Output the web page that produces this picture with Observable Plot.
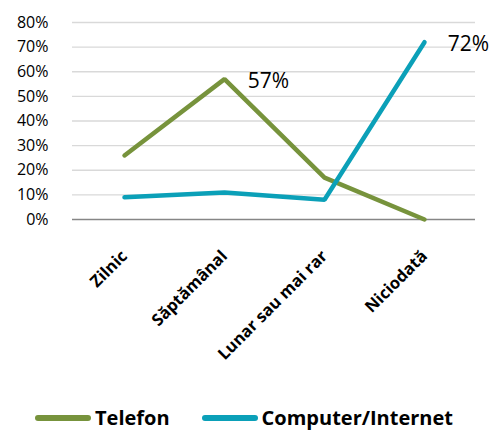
<!DOCTYPE html>
<html><head><meta charset="utf-8">
<script src="https://cdn.jsdelivr.net/npm/d3@7"></script>
<script src="https://cdn.jsdelivr.net/npm/@observablehq/plot@0.6"></script>
<style>
body{margin:0;background:#fff;font-family:"Open Sans",sans-serif;}
#legend{display:flex;align-items:center;font-weight:bold;font-size:20px;color:#000;margin-left:35px;margin-top:13px;line-height:26px;}
.sw{display:inline-block;width:56px;height:6px;border-radius:3px;margin-right:4px;}
.item{display:flex;align-items:center;margin-right:32px;}
</style></head><body>
<div id="chart"></div>
<div id="legend"></div>
<script>
const categories = ["Zilnic","Săptămânal","Lunar sau mai rar","Niciodată"];
const seriesNames = ["Telefon","Computer/Internet"];
const telefon = [26,57,17,0];
const computer = [9,11,8,72];
const yTicks = [0,10,20,30,40,50,60,70,80];
const colors = ["#77933C","#0BA0B8"];
const labels = [{i:1,v:57},{i:3,v:72}];

const data = [];
categories.forEach((c,i)=>{
  data.push({cat:c,series:seriesNames[0],v:telefon[i]});
  data.push({cat:c,series:seriesNames[1],v:computer[i]});
});
const labelData = labels.map(d=>({cat:categories[d.i],v:d.v,text:d.v+"%"}));

const chart = Plot.plot({
  width:497, height:392,
  marginLeft:72, marginRight:22, marginTop:22, marginBottom:173,
  style:{fontFamily:"'Open Sans', sans-serif", background:"#fff"},
  x:{type:"point", domain:categories, padding:0.5},
  y:{domain:[0,80]},
  color:{domain:seriesNames, range:colors},
  marks:[
    Plot.gridY(yTicks.filter(t=>t>0),{stroke:"#d9d9d9",strokeOpacity:1,strokeWidth:1.3}),
    Plot.ruleY([0],{stroke:"#868686",strokeWidth:1.3}),
    Plot.axisY({ticks:yTicks, tickSize:0, tickPadding:24, tickFormat:d=>d+"%", fontSize:16, fill:"#000", label:null}),
    Plot.axisX({tickSize:0, tickRotate:-45, tickPadding:34, fontSize:16.5, fontWeight:"bold", fill:"#000", label:null}),
    Plot.line(data,{x:"cat",y:"v",z:"series",stroke:"series",strokeWidth:4.5,strokeLinejoin:"miter"}),
    Plot.text(labelData,{x:"cat",y:"v",text:"text",dx:44,dy:2,fontSize:21,fill:"#000"})
  ]
});
document.getElementById("chart").append(chart);
const lg = document.getElementById("legend");
seriesNames.forEach((s,i)=>{
  const it=document.createElement("span");it.className="item";
  it.innerHTML=`<span class="sw" style="background:${colors[i]}"></span>${s}`;
  lg.append(it);
});
</script>
</body></html>
